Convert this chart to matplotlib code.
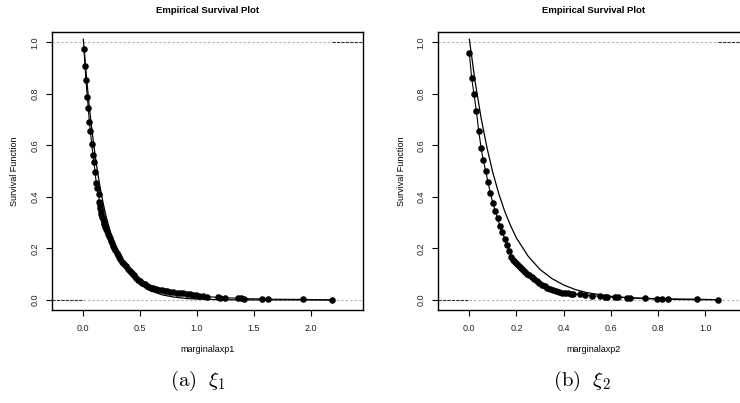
import matplotlib
matplotlib.use('Agg')
import matplotlib.pyplot as plt

plt.rcParams['font.family'] = ['Liberation Sans', 'DejaVu Sans']
plt.rcParams['mathtext.fontset'] = 'cm'

# empirical survival points, panel (a)
xp1 = [0.006, 0.015, 0.023, 0.035, 0.044, 0.053, 0.062, 0.074, 0.085, 0.094,
       0.103, 0.114, 0.123, 0.135, 0.141, 0.146, 0.150, 0.155, 0.160, 0.166,
       0.172, 0.178, 0.185, 0.192, 0.199, 0.207, 0.215, 0.224, 0.233, 0.242,
       0.252, 0.262, 0.272, 0.283, 0.294, 0.305, 0.316, 0.327, 0.338, 0.355,
       0.372, 0.390, 0.408, 0.425, 0.443, 0.462, 0.481, 0.500, 0.520, 0.540,
       0.560, 0.580, 0.598, 0.616, 0.640, 0.665, 0.690, 0.715, 0.740, 0.762,
       0.790, 0.820, 0.850, 0.880, 0.910, 0.938, 0.965, 0.990, 1.020, 1.050,
       1.085, 1.187, 1.200, 1.246, 1.363, 1.385, 1.416, 1.569, 1.627, 1.935,
       2.190]
sp1 = [0.974, 0.907, 0.854, 0.789, 0.744, 0.692, 0.656, 0.604, 0.563, 0.534,
       0.498, 0.455, 0.433, 0.410, 0.381, 0.368, 0.357, 0.345, 0.334, 0.323,
       0.313, 0.303, 0.293, 0.284, 0.275, 0.266, 0.257, 0.248, 0.239, 0.230,
       0.221, 0.211, 0.201, 0.192, 0.183, 0.175, 0.167, 0.157, 0.149, 0.140,
       0.131, 0.121, 0.111, 0.103, 0.095, 0.087, 0.079, 0.072, 0.066, 0.060,
       0.055, 0.051, 0.048, 0.045, 0.042, 0.039, 0.037, 0.035, 0.033, 0.032,
       0.030, 0.028, 0.026, 0.025, 0.023, 0.022, 0.020, 0.018, 0.016, 0.015,
       0.013, 0.010, 0.009, 0.008, 0.007, 0.006, 0.005, 0.004, 0.003, 0.002,
       0.000]

# fitted curve, panel (a)
xf1 = [0.000, 0.025, 0.050, 0.075, 0.100, 0.125, 0.150, 0.175, 0.200, 0.250,
       0.300, 0.350, 0.400, 0.450, 0.500, 0.600, 0.700, 0.800, 0.900, 1.000,
       1.200, 1.500, 2.190]
sf1 = [1.012, 0.880, 0.762, 0.661, 0.575, 0.498, 0.432, 0.375, 0.325, 0.245,
       0.184, 0.139, 0.104, 0.079, 0.059, 0.034, 0.019, 0.011, 0.006, 0.0035,
       0.001, 0.0002, 0.000]

# empirical survival points, panel (b)
xp2 = [0.000, 0.010, 0.020, 0.030, 0.040, 0.050, 0.059, 0.070, 0.079, 0.089,
       0.099, 0.110, 0.120, 0.130, 0.140, 0.150, 0.160, 0.170, 0.178, 0.187,
       0.195, 0.203, 0.211, 0.219, 0.228, 0.237, 0.246, 0.255, 0.265, 0.275,
       0.286, 0.297, 0.308, 0.319, 0.330, 0.342, 0.354, 0.366, 0.379, 0.392,
       0.405, 0.418, 0.430, 0.441, 0.469, 0.490, 0.518, 0.553, 0.576, 0.583,
       0.618, 0.632, 0.668, 0.682, 0.746, 0.795, 0.816, 0.844, 0.965, 1.054]
sp2 = [0.957, 0.860, 0.798, 0.732, 0.655, 0.590, 0.542, 0.499, 0.457, 0.416,
       0.378, 0.345, 0.317, 0.287, 0.263, 0.238, 0.213, 0.191, 0.168, 0.155,
       0.146, 0.139, 0.132, 0.125, 0.117, 0.110, 0.102, 0.095, 0.088, 0.081,
       0.073, 0.066, 0.059, 0.053, 0.048, 0.043, 0.039, 0.035, 0.031, 0.028,
       0.026, 0.025, 0.024, 0.023, 0.022, 0.021, 0.017, 0.014, 0.013, 0.012,
       0.010, 0.010, 0.009, 0.008, 0.007, 0.005, 0.005, 0.004, 0.003, 0.001]

# fitted curve, panel (b)
xf2 = [0.000, 0.025, 0.050, 0.075, 0.100, 0.125, 0.150, 0.175, 0.200, 0.250,
       0.300, 0.350, 0.400, 0.450, 0.500, 0.600, 0.700, 0.800, 0.900, 1.000,
       1.060]
sf2 = [1.012, 0.845, 0.706, 0.590, 0.493, 0.412, 0.344, 0.288, 0.240, 0.169,
       0.118, 0.083, 0.058, 0.040, 0.028, 0.014, 0.0068, 0.0033, 0.0016, 0.0008,
       0.0005]

titles = ['Empirical Survival Plot', 'Empirical Survival Plot']
xlabels = ['marginalaxp1', 'marginalaxp2']
captions = [r'$\mathrm{(a)}\ \ \xi_1$', r'$\mathrm{(b)}\ \ \xi_2$']
xticks = [[0.0, 0.5, 1.0, 1.5, 2.0], [0.0, 0.2, 0.4, 0.6, 0.8, 1.0]]
yticks = [0.0, 0.2, 0.4, 0.6, 0.8, 1.0]

fig = plt.figure(figsize=(7.4, 4.03), dpi=100)
ax1 = fig.add_axes([0.0703, 0.2308, 0.4203, 0.6898])
ax2 = fig.add_axes([0.5923, 0.2308, 0.4203, 0.6898])

panels = [(ax1, xp1, sp1, xf1, sf1, (-0.275, 2.46)),
          (ax2, xp2, sp2, xf2, sf2, (-0.1315, 1.187))]
cap_x = [198 / 740, 582 / 740]

for i, (ax, xp, sp, xf, sf, xl) in enumerate(panels):
    ax.set_xlim(*xl)
    ax.set_ylim(-0.039, 1.04)
    ax.axhline(0, color='#b0b0b0', lw=0.8, linestyle=(0, (2, 2)), zorder=1)
    ax.axhline(1, color='#b0b0b0', lw=0.8, linestyle=(0, (2, 2)), zorder=1)
    # step extensions beyond the data
    ax.plot([xl[0], 0.0], [0, 0], color='#333333', lw=0.8, linestyle=(0, (3, 1)), zorder=2)
    ax.plot([xp[-1], xl[1]], [1, 1], color='#333333', lw=0.8, linestyle=(0, (3, 1)), zorder=2)
    ax.plot(xf, sf, color='black', lw=0.9, zorder=3)
    ax.plot(xp, sp, color='black', lw=0.8, marker='o', ms=3.7, mec='black', mfc='black', zorder=4)

    ax.set_xticks(xticks[i])
    ax.set_xticklabels(['%.1f' % v for v in xticks[i]])
    ax.set_yticks(yticks)
    ax.set_yticklabels(['%.1f' % v for v in yticks], rotation=90, va='center')
    ax.tick_params(direction='out', length=4, width=0.8, labelsize=6.5, color='black',
                   labelcolor='#222222')
    ax.tick_params(axis='x', pad=6)
    ax.tick_params(axis='y', pad=5)
    for s in ax.spines.values():
        s.set_linewidth(1.0)
        s.set_color('black')

    ax.set_xlabel(xlabels[i], fontsize=6.5, labelpad=9)
    ax.set_ylabel('Survival Function', fontsize=6.5, labelpad=8)

    pos = ax.get_position()
    fig.text(pos.x0 + pos.width / 2, 0.973, titles[i], ha='center', va='center',
             fontsize=6.8, fontweight='bold')
    fig.text(cap_x[i], 0.055, captions[i], ha='center', va='center', fontsize=15)

fig.savefig('out.png', dpi=100)
plt.close(fig)
